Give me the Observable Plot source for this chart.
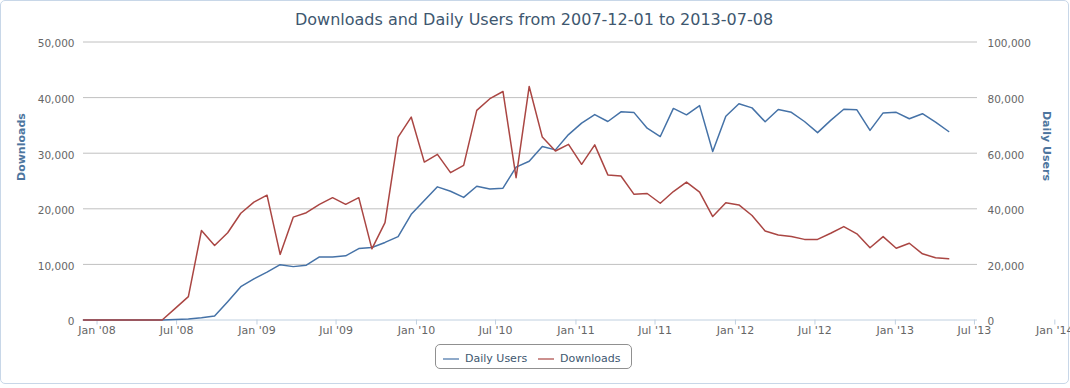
<!DOCTYPE html>
<html>
<head>
<meta charset="utf-8">
<script src="https://cdn.jsdelivr.net/npm/d3@7"></script>
<script src="https://cdn.jsdelivr.net/npm/@observablehq/plot@0.6"></script>
<style>
  html, body { margin: 0; padding: 0; background: #fff; }
  body { width: 1070px; height: 388px; position: relative; overflow: hidden; font-family: "DejaVu Sans", sans-serif; }
  #frame { position: absolute; left: 0; top: 0; width: 1069px; height: 384px; box-sizing: border-box;
           border: 1px solid #c8d7e8; border-radius: 5px; }
  #chart { position: absolute; left: 0; top: 0; }
  #title { position: absolute; left: 0; top: 12px; width: 1068px; text-align: center; font-size: 16px;
           line-height: 16px; color: #3E576F; white-space: nowrap; }
  #legend { position: absolute; left: 435px; top: 344px; width: 197px; height: 25px; box-sizing: border-box;
            border: 1px solid #909090; border-radius: 5px; }
  .sw { position: absolute; top: 13px; width: 16px; height: 2px; opacity: 0.6; }
  .lt { position: absolute; top: 8px; font-size: 11px; line-height: 11px; color: #3E576F; white-space: nowrap; }
</style>
</head>
<body>
<div id="frame"></div>
<div id="chart"></div>
<div id="title">Downloads and Daily Users from 2007-12-01 to 2013-07-08</div>
<div id="legend"></div>
<script>
// ---- data (one point every 30 days starting 2007-12-01) ----
const startDate = "2007-12-01";
const endDate = "2013-07-08";
const stepDays = 30;

const downloads = [
  0, 0, 0, 0, 0, 0, 0, 2100, 4200, 16100,
  13400, 15700, 19200, 21200, 22450, 11800, 18500, 19300, 20800, 22000,
  20800, 22000, 12800, 17500, 32900, 36500, 28400, 29800, 26500, 27800,
  37700, 39800, 41100, 25600, 42000, 32900, 30400, 31600, 28000, 31500,
  26100, 25900, 22600, 22750, 21000, 23100, 24800, 23000, 18600, 21100,
  20700, 18800, 16000, 15300, 15000, 14500, 14500, 15600, 16800, 15500,
  13000, 15000, 12900, 13800, 11900, 11200, 11000
];

const dailyUsers = [
  0, 0, 0, 0, 0, 0, 0, 200, 400, 800,
  1400, 6600, 12000, 14800, 17200, 19900, 19200, 19700, 22700, 22700,
  23100, 25700, 26100, 27900, 30000, 38000, 43000, 47900, 46300, 44100,
  48100, 47100, 47400, 55000, 57100, 62400, 61200, 66700, 70800, 73900,
  71400, 74900, 74600, 69000, 66000, 76100, 73800, 77100, 60600, 73300,
  77800, 76300, 71300, 75700, 74700, 71400, 67400, 71800, 75800, 75600,
  68200, 74500, 74700, 72400, 74200, 71200, 67800
];

const leftTicks = [0, 10000, 20000, 30000, 40000, 50000];
const rightTicks = [0, 20000, 40000, 60000, 80000, 100000];
const xTickDates = ["2008-01-01", "2008-07-01", "2009-01-01", "2009-07-01", "2010-01-01", "2010-07-01",
  "2011-01-01", "2011-07-01", "2012-01-01", "2012-07-01", "2013-01-01", "2013-07-01", "2014-01-01"];

const seriesNames = ["Daily Users", "Downloads"];
const seriesColors = ["#4572A7", "#AA4643"];

// ---- build ----
const start = new Date(startDate);
const ratio = rightTicks[rightTicks.length - 1] / leftTicks[leftTicks.length - 1];
const data = downloads.map((v, i) => ({
  date: d3.utcDay.offset(start, stepDays * i),
  downloads: v,
  users: dailyUsers[i]
}));
const fmt = d3.format(",");
const xTicks = xTickDates.map(d => new Date(d));

const chart = Plot.plot({
  width: 1070,
  height: 340,
  marginLeft: 83,
  marginRight: 93,
  marginTop: 41.5,
  marginBottom: 20.5,
  style: { fontFamily: "DejaVu Sans", background: "transparent", overflow: "visible" },
  x: { type: "utc", domain: [new Date(startDate), new Date(endDate)] },
  y: { domain: [leftTicks[0], leftTicks[leftTicks.length - 1]] },
  marks: [
    Plot.ruleY(leftTicks.slice(1), { stroke: "#C0C0C0", strokeWidth: 1 }),
    Plot.ruleY([0], { stroke: "#C0D0E0", strokeWidth: 1 }),
    Plot.axisY(leftTicks, {
      anchor: "left", tickSize: 0, tickPadding: 9, tickFormat: fmt,
      fontSize: 10.5, fill: "#666", dy: 2, label: null
    }),
    Plot.axisY(leftTicks, {
      anchor: "right", tickSize: 0, tickPadding: 10, tickFormat: d => fmt(d * ratio),
      fontSize: 10.5, fill: "#666", dy: 2, label: null
    }),
    Plot.axisX(xTicks, {
      anchor: "bottom", tickSize: 5, tickPadding: 1, stroke: "#C0D0E0",
      tickFormat: d3.utcFormat("%b '%y"), fontSize: 11, fill: "#666", label: null
    }),
    Plot.line(data, { x: "date", y: d => d.users / ratio, stroke: seriesColors[0], strokeWidth: 1.5 }),
    Plot.line(data, { x: "date", y: "downloads", stroke: seriesColors[1], strokeWidth: 1.5 }),
    Plot.text(["Downloads"], {
      text: d => d, frameAnchor: "left", rotate: -90, dx: -62.5,
      fontSize: 11, fontWeight: "bold", fill: "#4d759e"
    }),
    Plot.text(["Daily Users"], {
      text: d => d, frameAnchor: "right", rotate: 90, dx: 69,
      fontSize: 11, fontWeight: "bold", fill: "#4d759e"
    })
  ]
});
document.getElementById("chart").appendChild(chart);

// ---- legend ----
const legend = document.getElementById("legend");
const swLeft = [7, 102];
const txtLeft = [29, 124];
seriesNames.forEach((name, i) => {
  const sw = document.createElement("span");
  sw.className = "sw";
  sw.style.left = swLeft[i] + "px";
  sw.style.background = seriesColors[i];
  legend.appendChild(sw);
  const t = document.createElement("span");
  t.className = "lt";
  t.style.left = txtLeft[i] + "px";
  t.textContent = name;
  legend.appendChild(t);
});
</script>
</body>
</html>
